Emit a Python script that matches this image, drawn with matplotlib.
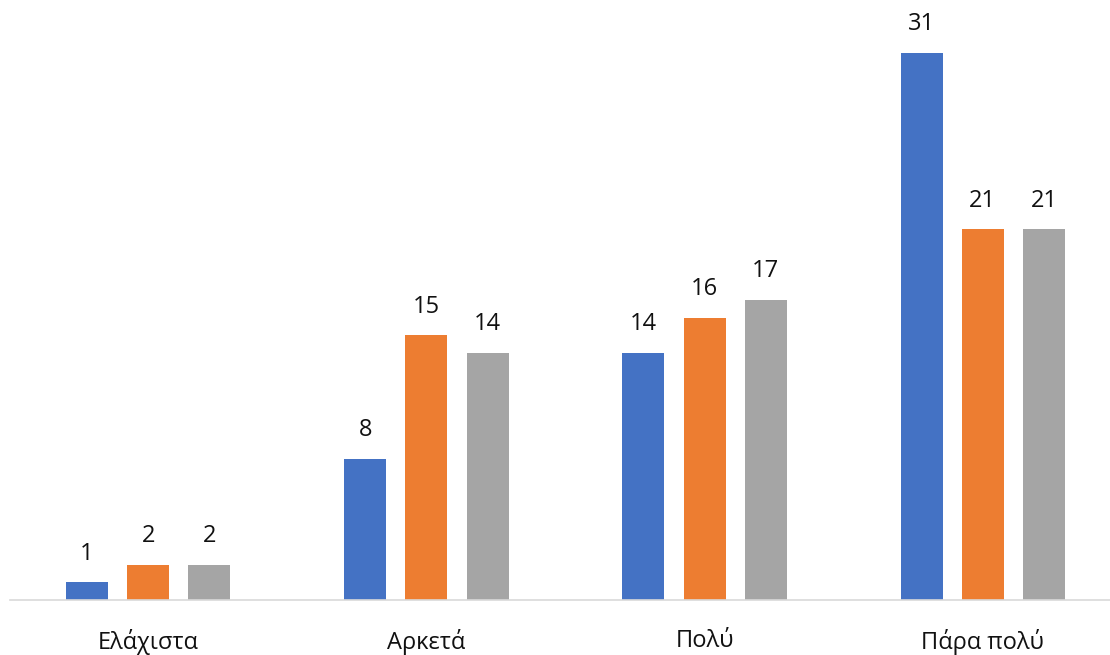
import numpy as np
import matplotlib.pyplot as plt

plt.rcParams['font.family'] = ['Open Sans', 'DejaVu Sans']

# data
categories = ['Ελάχιστα', 'Αρκετά', 'Πολύ', 'Πάρα πολύ']
series_a = [1, 8, 14, 31]
series_b = [2, 15, 16, 21]
series_c = [2, 14, 17, 21]
colors = ['#4472C4', '#ED7D31', '#A5A5A5']

fig = plt.figure(figsize=(11.1, 6.55), dpi=100)
ax = fig.add_axes([0.009, 0.084, 0.991, 0.916])

x = np.arange(len(categories))
w = 0.151
off = 0.22
for k, (vals, c) in enumerate(zip([series_a, series_b, series_c], colors)):
    bars = ax.bar(x + (k - 1) * off, vals, width=w, color=c)
    for b, v in zip(bars, vals):
        ax.annotate(str(v), (b.get_x() + b.get_width() / 2, v),
                    xytext=(0, 12), textcoords='offset points',
                    ha='center', va='bottom', fontsize=17, color='#111111')

ax.set_xlim(-0.497, 3.457)
ax.set_ylim(0, 34.0)
ax.set_xticks(x)
ax.set_xticklabels(categories, fontsize=17, color='#111111')
ax.tick_params(axis='x', length=0, pad=21)
ax.set_yticks([])
for s in ['top', 'right', 'left']:
    ax.spines[s].set_visible(False)
ax.spines['bottom'].set_color('#D9D9D9')
ax.spines['bottom'].set_linewidth(1.2)

fig.savefig('out.png', dpi=100)
